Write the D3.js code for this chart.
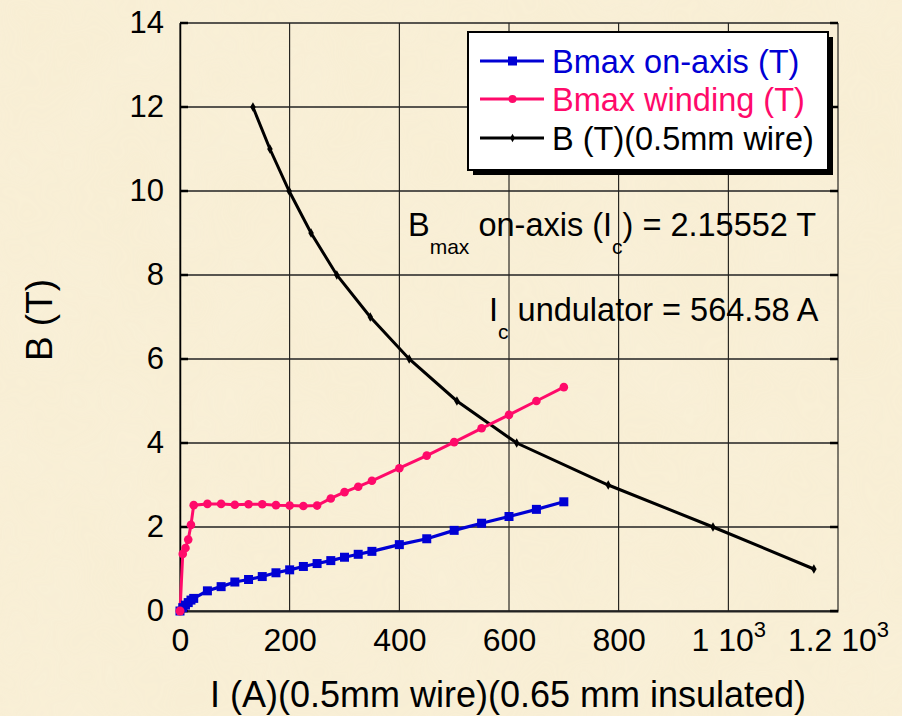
<!DOCTYPE html>
<html>
<head>
<meta charset="utf-8">
<script src="https://cdn.jsdelivr.net/npm/d3@7"></script>
<style>
  html, body { margin: 0; padding: 0; background: #f8eed6; }
  svg { display: block; font-family: "Liberation Sans", Arial, sans-serif; }
</style>
</head>
<body>
<svg id="chart" width="902" height="716"></svg>
<script>
//Data --------------------------------
const onAxisI = [0, 5, 10, 15, 20, 25, 50, 75, 100, 125, 150, 175, 200, 225, 250, 275, 300, 325, 350, 400, 450, 500, 550, 600, 650, 700];
const onAxisB = [0, 0.08, 0.14, 0.2, 0.26, 0.3, 0.48, 0.58, 0.69, 0.75, 0.82, 0.91, 0.98, 1.06, 1.13, 1.2, 1.28, 1.35, 1.42, 1.58, 1.72, 1.92, 2.09, 2.25, 2.42, 2.6];

const windingI = [0, 5, 10, 15, 20, 25, 50, 75, 100, 125, 150, 175, 200, 225, 250, 275, 300, 325, 350, 400, 450, 500, 550, 600, 650, 700];
const windingB = [0, 1.36, 1.5, 1.7, 2.05, 2.52, 2.55, 2.55, 2.53, 2.54, 2.54, 2.52, 2.51, 2.5, 2.51, 2.68, 2.83, 2.96, 3.1, 3.4, 3.7, 4.02, 4.35, 4.67, 5.0, 5.33];

const wireI = [133, 164, 199, 239, 286, 347, 418, 505, 614, 781, 972, 1156];
const wireB = [12, 11, 10, 9, 8, 7, 6, 5, 4, 3, 2, 1];

const xTicks = [0, 200, 400, 600, 800, 1000, 1200];
const xTickBase = ["0", "200", "400", "600", "800", "1 10", "1.2 10"];
const xTickExp = ["", "", "", "", "", "3", "3"];
const yTicks = [0, 2, 4, 6, 8, 10, 12, 14];

const seriesNames = ["Bmax on-axis (T)", "Bmax winding (T)", "B (T)(0.5mm wire)"];
const seriesColors = ["#0000d4", "#ff0a6a", "#000000"];

//Scales ----------
const x = d3.scaleLinear().domain([0, 1200]).range([180, 838]);
const y = d3.scaleLinear().domain([0, 14]).range([611, 23]);

const svg = d3.select("#chart");

//Parchment background
const defs = svg.append("defs");
const filt = defs.append("filter").attr("id", "paper").attr("x", 0).attr("y", 0).attr("width", "100%").attr("height", "100%");
filt.append("feTurbulence").attr("type", "fractalNoise").attr("baseFrequency", "0.012").attr("numOctaves", 3).attr("seed", 4).attr("result", "noise");
filt.append("feColorMatrix").attr("in", "noise").attr("type", "matrix")
  .attr("values", "0 0 0 0 0.97  0 0 0 0 0.92  0 0 0 0 0.78  0 0 0 0.4 -0.05");
svg.append("rect").attr("width", 902).attr("height", 716).attr("fill", "#f8eed4");
svg.append("rect").attr("width", 902).attr("height", 716).attr("filter", "url(#paper)").attr("opacity", 0.7);

//Grid ----------
const grid = svg.append("g").attr("class", "grid");
grid.selectAll("line.v")
  .data(xTicks)
  .join("line")
  .attr("class", "v")
  .attr("x1", (d) => x(d)).attr("x2", (d) => x(d))
  .attr("y1", y(14)).attr("y2", y(0))
  .attr("stroke", "#000").attr("stroke-width", 1);
grid.selectAll("line.h")
  .data(yTicks)
  .join("line")
  .attr("class", "h")
  .attr("x1", x(0)).attr("x2", x(1200))
  .attr("y1", (d) => y(d)).attr("y2", (d) => y(d))
  .attr("stroke", "#222").attr("stroke-width", 1.3);

//Axes ----------
const xAxis = svg.append("g")
  .attr("transform", "translate(0," + y(0) + ")")
  .call(d3.axisBottom(x).tickValues(xTicks).tickSize(0).tickPadding(11).tickFormat(""));
xAxis.select(".domain").attr("stroke", "#222").attr("stroke-width", 2);
xAxis.selectAll(".tick text")
  .attr("font-size", 32)
  .attr("fill", "#000")
  .attr("dy", "0.92em")
  .each(function (d, i) {
    const t = d3.select(this);
    t.append("tspan").text(xTickBase[i]);
    if (xTickExp[i]) {
      t.append("tspan").attr("font-size", 22).attr("dy", -14).text(xTickExp[i]);
    }
  });

const yAxis = svg.append("g")
  .attr("transform", "translate(" + x(0) + ",0)")
  .call(d3.axisLeft(y).tickValues(yTicks).tickSize(0).tickPadding(16));
yAxis.select(".domain").attr("stroke", "#000").attr("stroke-width", 1.5);
yAxis.selectAll(".tick text").attr("font-size", 31).attr("fill", "#000");

//Inside tick stubs on left and right edges
svg.append("g").selectAll("line")
  .data(yTicks)
  .join("line")
  .attr("x1", x(0)).attr("x2", x(0) + 8)
  .attr("y1", (d) => y(d)).attr("y2", (d) => y(d))
  .attr("stroke", "#000").attr("stroke-width", 2.5);
svg.append("g").selectAll("line")
  .data(yTicks)
  .join("line")
  .attr("x1", x(1200) - 8).attr("x2", x(1200))
  .attr("y1", (d) => y(d)).attr("y2", (d) => y(d))
  .attr("stroke", "#000").attr("stroke-width", 2.5);

//Axis titles
svg.append("text")
  .attr("x", 508).attr("y", 707)
  .attr("text-anchor", "middle")
  .attr("font-size", 36)
  .text("I (A)(0.5mm wire)(0.65 mm insulated)");
svg.append("text")
  .attr("transform", "translate(52," + 320 + ") rotate(-90)")
  .attr("text-anchor", "middle")
  .attr("font-size", 37)
  .text("B (T)");

//Series ----------
const line = d3.line().x((d) => x(d[0])).y((d) => y(d[1]));
const onAxis = d3.zip(onAxisI, onAxisB);
const winding = d3.zip(windingI, windingB);
const wire = d3.zip(wireI, wireB);

svg.append("path").datum(wire).attr("d", line)
  .attr("fill", "none").attr("stroke", seriesColors[2]).attr("stroke-width", 3);
svg.append("g").selectAll("path")
  .data(wire)
  .join("path")
  .attr("transform", (d) => "translate(" + x(d[0]) + "," + y(d[1]) + ")")
  .attr("d", d3.symbol(d3.symbolDiamond, 26))
  .attr("fill", seriesColors[2]);

svg.append("path").datum(winding).attr("d", line)
  .attr("fill", "none").attr("stroke", seriesColors[1]).attr("stroke-width", 3);
svg.append("g").selectAll("circle")
  .data(winding)
  .join("circle")
  .attr("cx", (d) => x(d[0])).attr("cy", (d) => y(d[1]))
  .attr("r", 4.3)
  .attr("fill", seriesColors[1]);

svg.append("path").datum(onAxis).attr("d", line)
  .attr("fill", "none").attr("stroke", seriesColors[0]).attr("stroke-width", 3.2);
svg.append("g").selectAll("rect")
  .data(onAxis)
  .join("rect")
  .attr("x", (d) => x(d[0]) - 4.5).attr("y", (d) => y(d[1]) - 4.5)
  .attr("width", 9).attr("height", 9)
  .attr("fill", seriesColors[0]);

//the winding origin point sits on top
svg.append("circle").attr("cx", x(windingI[0])).attr("cy", y(windingB[0])).attr("r", 4.5).attr("fill", seriesColors[1]);

//Legend ----------
const legend = svg.append("g").attr("transform", "translate(468,32)");
legend.append("rect").attr("x", 5).attr("y", 5).attr("width", 360).attr("height", 138).attr("fill", "#000");
legend.append("rect").attr("x", 0).attr("y", 0).attr("width", 360).attr("height", 138)
  .attr("fill", "#fff").attr("stroke", "#000").attr("stroke-width", 2);
const rowY = [29, 67, 106];
seriesNames.forEach(function (name, i) {
  const g = legend.append("g").attr("transform", "translate(0," + rowY[i] + ")");
  g.append("line").attr("x1", 12).attr("x2", 76).attr("stroke", seriesColors[i]).attr("stroke-width", 3);
  if (i === 0) {
    g.append("rect").attr("x", 40).attr("y", -4.5).attr("width", 9).attr("height", 9).attr("fill", seriesColors[i]);
  } else if (i === 1) {
    g.append("circle").attr("cx", 44.5).attr("r", 4).attr("fill", seriesColors[i]);
  } else {
    g.append("path").attr("transform", "translate(44.5,0)").attr("d", d3.symbol(d3.symbolDiamond, 20)).attr("fill", seriesColors[i]);
  }
  g.append("text").attr("x", 84).attr("y", 12).attr("font-size", 32.5).attr("fill", seriesColors[i]).text(name);
});

//Annotations ----------
const note1 = svg.append("text").attr("x", 408).attr("y", 236).attr("font-size", 32.5);
note1.append("tspan").text("B");
note1.append("tspan").attr("dy", 18).attr("font-size", 21).text("max");
note1.append("tspan").attr("dy", -18).text(" on-axis (I");
note1.append("tspan").attr("dy", 18).attr("font-size", 21).text("c");
note1.append("tspan").attr("dy", -18).text(") = 2.15552 T");

const note2 = svg.append("text").attr("x", 489).attr("y", 321).attr("font-size", 32.5);
note2.append("tspan").text("I");
note2.append("tspan").attr("dy", 18).attr("font-size", 21).text("c");
note2.append("tspan").attr("dy", -18).text(" undulator = 564.58 A");
</script>
</body>
</html>
